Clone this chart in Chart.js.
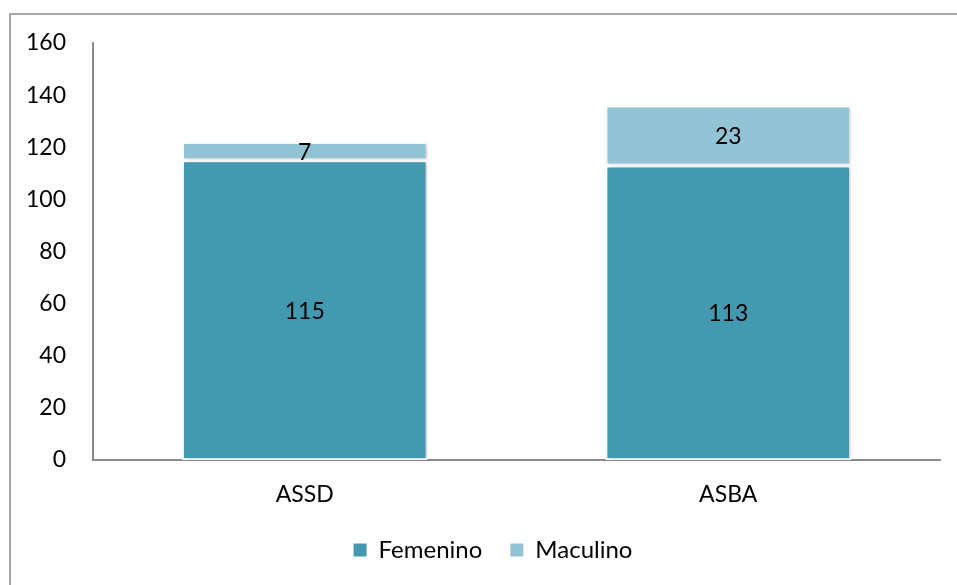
<!DOCTYPE html>
<html>
<head>
<meta charset="utf-8">
<script src="https://cdn.jsdelivr.net/npm/chart.js@4/dist/chart.umd.min.js"></script>
<style>
  html, body { margin: 0; padding: 0; background: #fff; }
  #wrap { width: 957px; height: 585px; }
</style>
</head>
<body>
<div id="wrap"><canvas id="myChart" width="957" height="585"></canvas></div>
<script>
const categories = ["ASSD", "ASBA"];
const femenino = [115, 113];
const maculino = [7, 23];
const yTicks = [0, 20, 40, 60, 80, 100, 120, 140, 160];

const FONT = "Lato, 'Open Sans', sans-serif";

// outer frame around the whole chart
const framePlugin = {
  id: "frame",
  beforeDraw(chart) {
    const ctx = chart.ctx;
    ctx.save();
    ctx.strokeStyle = "#8c8c8c";
    ctx.lineWidth = 1.5;
    ctx.strokeRect(10, 14, 980, 620);
    ctx.restore();
  }
};

// legend sits a little right of the canvas centre in the original
const legendShift = {
  id: "legendShift",
  afterLayout(chart) {
    if (chart.legend) {
      chart.legend.left += 23;
      chart.legend.right += 23;
    }
  }
};

// value labels in the middle of each segment
const labelPlugin = {
  id: "segLabels",
  afterDatasetsDraw(chart) {
    const ctx = chart.ctx;
    ctx.save();
    ctx.font = "23px " + FONT;
    ctx.fillStyle = "#000";
    ctx.textAlign = "center";
    ctx.textBaseline = "middle";
    chart.data.datasets.forEach((ds, i) => {
      chart.getDatasetMeta(i).data.forEach((bar, j) => {
        const mid = (bar.y + bar.base) / 2;
        ctx.fillText(String(ds.data[j]), bar.x, mid + 1);
      });
    });
    ctx.restore();
  }
};

// soft shadow behind bars
const shadowPlugin = {
  id: "barShadow",
  beforeDatasetsDraw(chart) {
    const ctx = chart.ctx;
    ctx.save();
    ctx.shadowColor = "rgba(0,0,0,0.18)";
    ctx.shadowBlur = 4;
    ctx.shadowOffsetX = 2;
    ctx.shadowOffsetY = 1;
  },
  afterDatasetsDraw(chart) {
    chart.ctx.restore();
  }
};

const ctx = document.getElementById("myChart");
const myChart = new Chart(ctx, {
  type: "bar",
  data: {
    labels: categories,
    datasets: [
      {
        label: "Femenino",
        data: femenino,
        backgroundColor: "#4399b0",
        borderColor: "#ffffff",
        borderWidth: 2,
        borderSkipped: false,
        categoryPercentage: 0.58,
        barPercentage: 1
      },
      {
        label: "Maculino",
        data: maculino,
        backgroundColor: "#93c4d6",
        borderColor: "#ffffff",
        borderWidth: 2,
        borderSkipped: false,
        categoryPercentage: 0.58,
        barPercentage: 1
      }
    ]
  },
  options: {
    responsive: false,
    animation: false,
    layout: { padding: { left: 0, right: 17, top: 43, bottom: 13 } },
    plugins: {
      tooltip: { enabled: false },
      legend: {
        position: "bottom",
        labels: {
          font: { family: FONT, size: 24 },
          color: "#000",
          boxWidth: 13,
          boxHeight: 13,
          padding: 10,
          // wider gap between the two entries
          generateLabels(chart) {
            const items = Chart.defaults.plugins.legend.labels.generateLabels(chart);
            items.forEach((it, i) => {
              it.lineWidth = 0;
              if (i < items.length - 1) it.text = it.text + "\u2003";
            });
            return items;
          }
        }
      }
    },
    scales: {
      x: {
        stacked: true,
        grid: { display: false },
        border: { display: true, color: "#8c8c8c", width: 2 },
        ticks: { font: { family: FONT, size: 23 }, color: "#000", padding: 13 },
        afterFit(scale) { scale.height = 68; }
      },
      y: {
        stacked: true,
        min: 0,
        max: 160,
        grid: { display: false },
        border: { display: true, color: "#8c8c8c", width: 2 },
        afterBuildTicks(scale) { scale.ticks = yTicks.map(v => ({ value: v })); },
        ticks: { font: { family: FONT, size: 23 }, color: "#000", padding: 19 },
        afterFit(scale) { scale.width = 93; }
      }
    }
  },
  plugins: [framePlugin, legendShift, shadowPlugin, labelPlugin]
});
</script>
</body>
</html>
